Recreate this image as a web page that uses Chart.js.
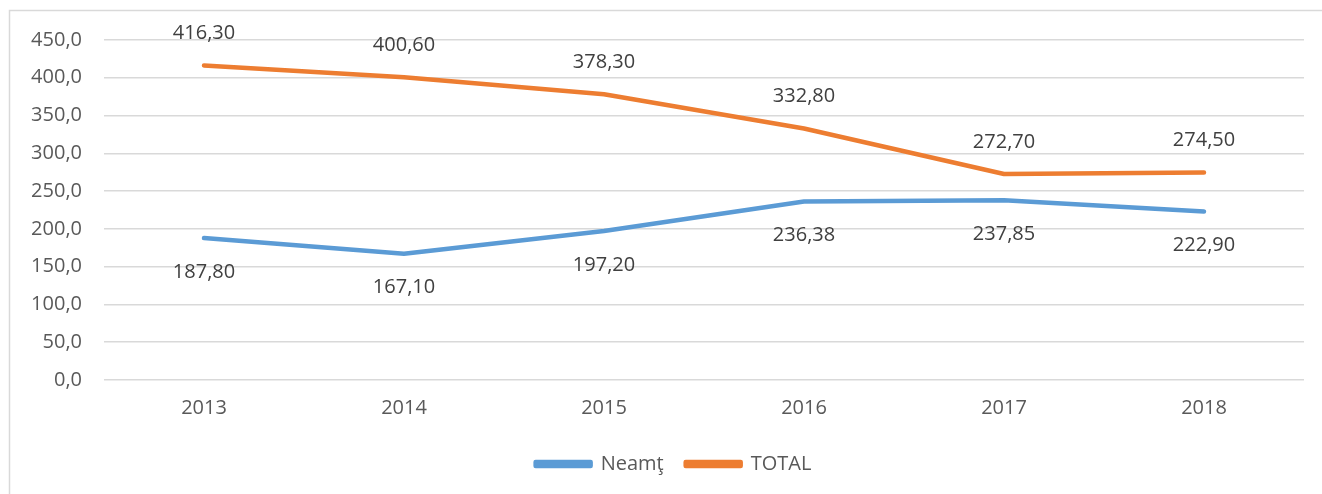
<!DOCTYPE html>
<html>
<head>
<meta charset="utf-8">
<script src="https://cdn.jsdelivr.net/npm/chart.js@4.4.0/dist/chart.umd.min.js"></script>
<style>
html,body{margin:0;padding:0;background:#fff;}
#wrap{position:relative;width:1322px;height:494px;}
</style>
</head>
<body>
<div id="wrap"><canvas id="c" width="1322" height="494"></canvas></div>
<script>
const categories = ["2013", "2014", "2015", "2016", "2017", "2018"];
const neamtValues = [187.80, 167.10, 197.20, 236.38, 237.85, 222.90];
const totalValues = [416.30, 400.60, 378.30, 332.80, 272.70, 274.50];
const seriesNames = ["Neamţ", "TOTAL"];

const FONT = "'Open Sans', 'Liberation Sans', sans-serif";
const FS = 20;

function fmt(v, d) { return v.toFixed(d).replace('.', ','); }

const borderPlugin = {
  id: 'border',
  beforeDraw(chart) {
    const ctx = chart.ctx;
    ctx.save();
    ctx.fillStyle = '#fff';
    ctx.fillRect(0, 0, chart.width, chart.height);
    ctx.strokeStyle = '#d9d9d9';
    ctx.lineWidth = 1.5;
    ctx.strokeRect(9.5, 10.5, 1400, 600);
    ctx.restore();
  }
};

const legendShift = {
  id: 'legendShift',
  afterLayout(chart) {
    if (chart.legend) { chart.legend.left += 17; chart.legend.right += 17; }
  }
};

const labelPlugin = {
  id: 'labels',
  afterDatasetsDraw(chart) {
    const ctx = chart.ctx;
    ctx.save();
    ctx.font = FS + "px " + FONT;
    ctx.fillStyle = '#404040';
    ctx.textAlign = 'center';
    ctx.textBaseline = 'middle';
    chart.data.datasets.forEach((ds, i) => {
      const meta = chart.getDatasetMeta(i);
      meta.data.forEach((pt, j) => {
        const off = i === 0 ? 34 : -32;
        ctx.fillText(fmt(ds.data[j], 2), pt.x, pt.y + off);
      });
    });
    ctx.restore();
  }
};

new Chart(document.getElementById('c'), {
  type: 'line',
  data: {
    labels: categories,
    datasets: [
      { label: seriesNames[0], data: neamtValues, borderColor: '#5b9bd5', backgroundColor: '#5b9bd5', borderWidth: 4.5, pointRadius: 0, borderCapStyle: 'round', borderJoinStyle: 'round', tension: 0 },
      { label: seriesNames[1], data: totalValues, borderColor: '#ed7d31', backgroundColor: '#ed7d31', borderWidth: 4.5, pointRadius: 0, borderCapStyle: 'round', borderJoinStyle: 'round', tension: 0 }
    ]
  },
  options: {
    responsive: false,
    animation: false,
    layout: { padding: { left: 9, right: 18, top: 40, bottom: 10 } },
    plugins: {
      tooltip: { enabled: false },
      legend: {
        position: 'bottom',
        labels: {
          font: { size: FS, family: FONT },
          color: '#595959',
          boxWidth: 55,
          boxHeight: 4,
          padding: 22
        }
      }
    },
    scales: {
      x: {
        offset: true,
        grid: { display: false, drawTicks: false },
        border: { display: false },
        ticks: { font: { size: FS, family: FONT }, color: '#595959', padding: 16 },
        afterFit(s) { s.height = 52; }
      },
      y: {
        min: 0, max: 450,
        ticks: { stepSize: 50, font: { size: FS, family: FONT }, color: '#595959', padding: 22, callback: v => fmt(v, 1) },
        grid: { color: '#d9d9d9', lineWidth: 1.5, drawTicks: false },
        border: { display: false },
        afterFit(s) { s.width = 95; }
      }
    }
  },
  plugins: [borderPlugin, legendShift, labelPlugin]
});
</script>
</body>
</html>
